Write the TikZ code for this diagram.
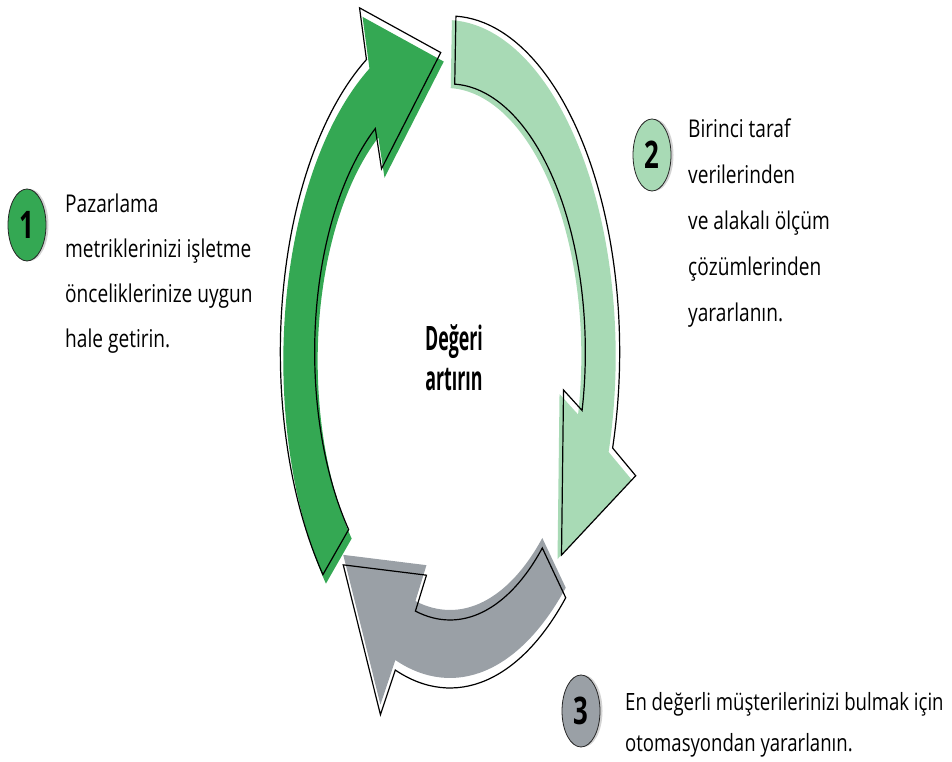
\documentclass[tikz,border=0pt]{standalone}
\usepackage{fontspec}
\usepackage{tikz}
\usetikzlibrary{shapes.geometric,shadows}
\newfontfamily\bodyfont[FakeStretch=0.78]{Open Sans}
\newfontfamily\hubfont[FakeStretch=0.53]{Open Sans}
\newfontfamily\digitfont[FakeStretch=0.68]{Open Sans}
\definecolor{ggreen}{HTML}{34A853}
\definecolor{glight}{HTML}{A8DAB5}
\definecolor{ggrey}{HTML}{9AA0A6}
\tikzset{
  ring/.style 2 args={shift={(450+#1,410+#2)}, xscale=0.505},
  % tail angle, notch angle of the head
  ring arrow/.style 2 args={insert path={(#1:336) arc[start angle=#1, end angle=#2, radius=336]
      -- (#2-2:388) -- (#2-26:300) -- (#2+7:228) -- (#2+4:268)
      arc[start angle=#2+4, end angle=#1, radius=268] -- cycle}},
  outline/.style={draw=black, line width=1.2pt, line join=miter},
  badge/.style={ellipse, draw=black!85, line width=0.8pt, minimum width=38, minimum height=72, inner sep=0pt,
      drop shadow={shadow xshift=2.5pt, shadow yshift=0pt, opacity=0.35}, font=\digitfont\bfseries\fontsize{38}{38}\selectfont},
  note/.style={align=left, inner sep=0pt, anchor=north west, font=\bodyfont\fontsize{24.5}{#1}\selectfont},
  hub/.style={align=center, inner sep=0pt, font=\hubfont\bfseries\fontsize{33.6}{40}\selectfont}
}
\begin{document}
\begin{tikzpicture}[x=1pt, y=1pt]
    \useasboundingbox (0,0) rectangle (952,762);
    % the three arrows of the ring
    \foreach \tail/\head/\col/\dx/\dy in {221.5/119.5/ggreen/3/-9, 88/-16.6/glight/-4/-4, -47/-108.8/ggrey/0/10} {
        \fill[\col, ring={\dx}{\dy}, ring arrow={\tail}{\head}];
        \draw[outline, ring={0}{0}, ring arrow={\tail}{\head}];
    }
    \node[hub] (hub) at (454,404) {Değeri\\artırın};
    % steps
    \node[badge, fill=ggreen] (b1) at (27,537) {1};
    \node[badge, fill=glight] (b2) at (652,607) {2};
    \node[badge, fill=ggrey] (b3) at (581,51) {3};
    \node[note=45] (t1) at (65,568) {Pazarlama\\metriklerinizi işletme\\önceliklerinize uygun\\hale getirin.};
    \node[note=46] (t2) at (688,643) {Birinci taraf\\verilerinden\\ve alakalı ölçüm\\çözümlerinden\\yararlanın.};
    \node[note=41, font=\bodyfont\fontsize{23.8}{41}\selectfont] (t3) at (625,70) {En değerli müşterilerinizi bulmak için\\otomasyondan yararlanın.};
\end{tikzpicture}
\end{document}
